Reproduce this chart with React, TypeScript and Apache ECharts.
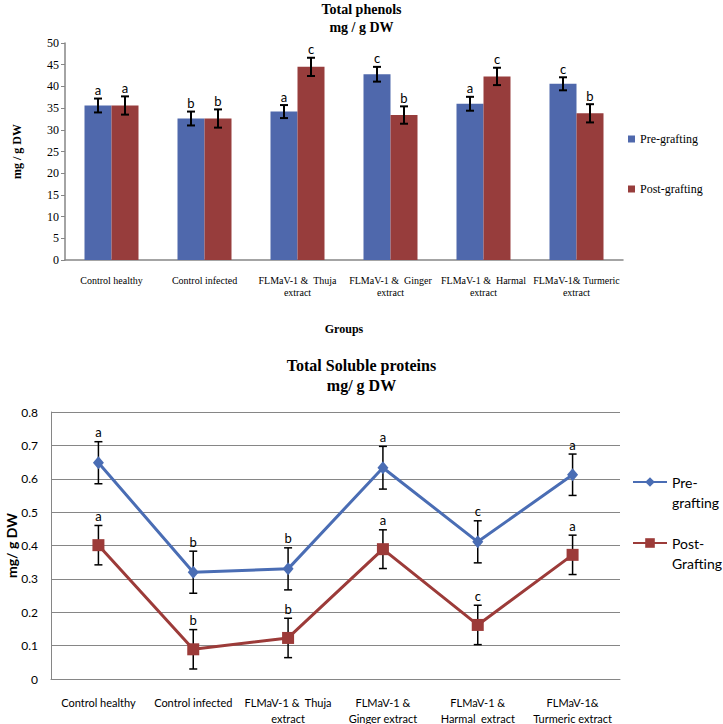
import React, { useEffect, useRef } from "react";
import * as echarts from "echarts";

const SERIF = "Liberation Serif";
const SANS = "Lato";

const categoriesTop = [
  "Control healthy",
  "Control infected",
  "FLMaV-1 &  Thuja\nextract",
  "FLMaV-1 &  Ginger\nextract",
  "FLMaV-1 &  Harmal\nextract",
  "FLMaV-1& Turmeric\nextract",
];
const categoriesBottom = [
  "Control healthy",
  "Control infected",
  "FLMaV-1 &  Thuja\nextract",
  "FLMaV-1 &\nGinger extract",
  "FLMaV-1 &\nHarmal  extract",
  "FLMaV-1&\nTurmeric extract",
];

const phenolPre = [35.6, 32.6, 34.2, 42.8, 36.0, 40.6];
const phenolPreErr = [1.6, 1.6, 1.5, 1.7, 1.6, 1.5];
const phenolPreLetters = ["a", "b", "a", "c", "a", "c"];
const phenolPost = [35.6, 32.6, 44.5, 33.4, 42.3, 33.8];
const phenolPostErr = [2.1, 2.1, 2.1, 2.0, 2.0, 2.1];
const phenolPostLetters = ["a", "b", "c", "b", "c", "b"];

const proteinPre = [0.648, 0.32, 0.33, 0.633, 0.411, 0.612];
const proteinPreErr = [0.063, 0.063, 0.063, 0.064, 0.063, 0.062];
const proteinPreLetters = ["a", "b", "b", "a", "c", "a"];
const proteinPost = [0.401, 0.089, 0.123, 0.389, 0.162, 0.372];
const proteinPostErr = [0.059, 0.059, 0.059, 0.058, 0.059, 0.059];
const proteinPostLetters = ["a", "b", "b", "a", "c", "a"];

const BLUE_BAR = "#4F68AC";
const RED_BAR = "#973D3C";
const BLUE_LINE = "#4A6DB4";
const RED_LINE = "#9C3B39";
const AXIS_GRAY = "#868686";

function errSeries(
  values: number[],
  errs: number[],
  letters: string[],
  axisIndex: number,
  offset: number,
  capHalf: number,
  lw: number,
  font: string,
  fontSize: number,
  letterGap: number
) {
  return {
    type: "custom",
    xAxisIndex: axisIndex,
    yAxisIndex: axisIndex,
    z: 1,
    silent: true,
    data: values.map((v, i) => [i, v, errs[i]]),
    renderItem: (params: any, api: any) => {
      const i = api.value(0);
      const v = api.value(1);
      const e = api.value(2);
      const top = api.coord([i, v + e]);
      const bot = api.coord([i, v - e]);
      const x = top[0] + offset;
      const st = { stroke: "#000", lineWidth: lw };
      return {
        type: "group",
        children: [
          { type: "line", shape: { x1: x, y1: top[1], x2: x, y2: bot[1] }, style: st },
          { type: "line", shape: { x1: x - capHalf, y1: top[1], x2: x + capHalf, y2: top[1] }, style: st },
          { type: "line", shape: { x1: x - capHalf, y1: bot[1], x2: x + capHalf, y2: bot[1] }, style: st },
          {
            type: "text",
            x: x,
            y: top[1] - letterGap,
            style: {
              text: letters[params.dataIndex],
              fontFamily: font,
              fontSize: fontSize,
              fill: "#000",
              textAlign: "center",
              textVerticalAlign: "bottom",
              align: "center",
              verticalAlign: "bottom",
            },
          },
        ],
      };
    },
  };
}

export default function App() {
  const ref = useRef<HTMLDivElement>(null);
  useEffect(() => {
    if (!ref.current) return;
    const chart = echarts.init(ref.current, undefined, { renderer: "svg" });
    const option: any = {
      animation: false,
      backgroundColor: "#fff",
      title: [
        {
          text: "Total phenols\nmg / g DW",
          left: "center",
          top: 0,
          padding: 0,
          textStyle: { fontFamily: SERIF, fontSize: 14, fontWeight: "bold", lineHeight: 18, color: "#000" },
        },
        {
          text: "Total Soluble proteins\nmg/ g DW",
          left: "center",
          top: 355,
          padding: 0,
          textStyle: { fontFamily: SERIF, fontSize: 16, fontWeight: "bold", lineHeight: 20, color: "#000" },
        },
      ],
      legend: [
        {
          data: ["Pre-grafting", "Post-grafting"],
          orient: "vertical",
          left: 628,
          top: 132,
          itemWidth: 7,
          itemHeight: 7,
          itemGap: 36,
          icon: "rect",
          selectedMode: false,
          padding: 0,
          textStyle: { fontFamily: SERIF, fontSize: 12, lineHeight: 14, color: "#000" },
        },
        {
          data: ["Pre-\ngrafting", "Post-\nGrafting"],
          orient: "vertical",
          left: 632,
          top: 452,
          itemWidth: 34,
          itemHeight: 12,
          itemGap: 1,
          selectedMode: false,
          padding: 0,
          formatter: (name: string) => "\n" + name,
          textStyle: { fontFamily: SANS, fontSize: 14, lineHeight: 20, color: "#000" },
        },
      ],
      grid: [
        { left: 65, right: 100, top: 43, bottom: 464, outerBoundsMode: "none", containLabel: false },
        { left: 51, right: 103, top: 412, bottom: 45, outerBoundsMode: "none", containLabel: false },
      ],
      xAxis: [
        {
          type: "category",
          gridIndex: 0,
          data: categoriesTop,
          axisLine: { lineStyle: { color: AXIS_GRAY, width: 1.5 } },
          axisTick: { show: false },
          axisLabel: { interval: 0, fontFamily: SERIF, fontSize: 10, lineHeight: 12, color: "#000", margin: 14 },
          name: "Groups",
          nameLocation: "middle",
          nameGap: 63,
          nameMoveOverlap: false,
          nameTextStyle: { fontFamily: SERIF, fontSize: 12, fontWeight: "bold", color: "#000" },
        },
        {
          type: "category",
          gridIndex: 1,
          data: categoriesBottom,
          axisLine: { lineStyle: { color: AXIS_GRAY } },
          axisTick: { show: false },
          axisLabel: { interval: 0, fontFamily: SANS, fontSize: 11, lineHeight: 16, color: "#000", margin: 15 },
        },
      ],
      yAxis: [
        {
          type: "value",
          gridIndex: 0,
          min: 0,
          max: 50,
          interval: 5,
          axisLine: { show: true, lineStyle: { color: AXIS_GRAY, width: 1.5 } },
          axisTick: { show: true, length: 4, lineStyle: { color: AXIS_GRAY } },
          splitLine: { show: false },
          axisLabel: { fontFamily: SERIF, fontSize: 12, color: "#000", margin: 6 },
          name: "mg / g DW",
          nameLocation: "middle",
          nameGap: 42,
          nameMoveOverlap: false,
          nameTextStyle: { fontFamily: SERIF, fontSize: 12, fontWeight: "bold", color: "#000" },
        },
        {
          type: "value",
          gridIndex: 1,
          min: 0,
          max: 0.8,
          interval: 0.1,
          axisLine: { show: true, lineStyle: { color: AXIS_GRAY } },
          axisTick: { show: false },
          splitLine: { show: true, lineStyle: { color: AXIS_GRAY, width: 1 } },
          axisLabel: {
            fontFamily: SANS,
            fontSize: 12,
            color: "#000",
            margin: 13,
            formatter: (v: number) => (v === 0 ? "0" : v.toFixed(1)),
          },
          name: "mg/ g DW",
          nameLocation: "middle",
          nameGap: 33,
          nameMoveOverlap: false,
          nameTextStyle: { fontFamily: SANS, fontSize: 14, fontWeight: "bold", color: "#000" },
        },
      ],
      series: [
        {
          name: "Pre-grafting",
          type: "bar",
          xAxisIndex: 0,
          yAxisIndex: 0,
          data: phenolPre,
          barWidth: 27,
          barGap: "0%",
          itemStyle: { color: BLUE_BAR },
        },
        {
          name: "Post-grafting",
          type: "bar",
          xAxisIndex: 0,
          yAxisIndex: 0,
          data: phenolPost,
          barWidth: 27,
          barGap: "0%",
          itemStyle: { color: RED_BAR },
        },
        { ...errSeries(phenolPre, phenolPreErr, phenolPreLetters, 0, -13.5, 4, 2, SANS, 13, 2), z: 3 },
        { ...errSeries(phenolPost, phenolPostErr, phenolPostLetters, 0, 13.5, 4, 2, SANS, 13, 2), z: 3 },
        {
          name: "Pre-\ngrafting",
          type: "line",
          xAxisIndex: 1,
          yAxisIndex: 1,
          data: proteinPre,
          symbol: "diamond",
          symbolSize: [11, 13],
          z: 2,
          lineStyle: { color: BLUE_LINE, width: 3 },
          itemStyle: { color: BLUE_LINE },
        },
        {
          name: "Post-\nGrafting",
          type: "line",
          xAxisIndex: 1,
          yAxisIndex: 1,
          data: proteinPost,
          symbol: "rect",
          symbolSize: 12,
          z: 2,
          lineStyle: { color: RED_LINE, width: 3 },
          itemStyle: { color: RED_LINE },
        },
        errSeries(proteinPre, proteinPreErr, proteinPreLetters, 1, 0, 4, 1.5, SANS, 13, 3),
        errSeries(proteinPost, proteinPostErr, proteinPostLetters, 1, 0, 4, 1.5, SANS, 13, 3),
      ],
    };
    chart.setOption(option);
    return () => chart.dispose();
  }, []);
  return (
    <div
      ref={ref}
      style={{ position: "absolute", left: 0, top: 0, width: 723, height: 724 }}
    />
  );
}
